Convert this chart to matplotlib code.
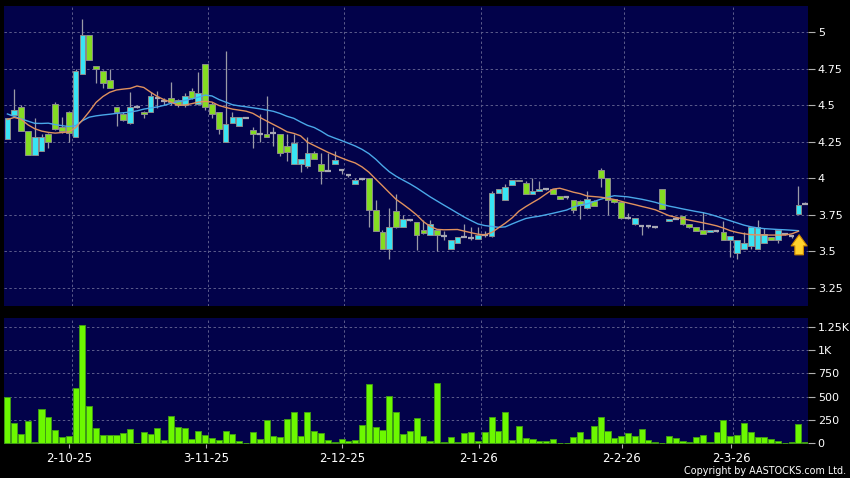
import matplotlib
matplotlib.use('Agg')
import matplotlib.pyplot as plt
import numpy as np

# ---------------- data ----------------
opens = [4.27, 4.43, 4.49, 4.32, 4.16, 4.19, 4.30, 4.51, 4.35, 4.45,
         4.28, 4.71, 4.98, 4.765, 4.735, 4.67, 4.49, 4.44, 4.38, 4.49,
         4.45, 4.45, 4.55, 4.53, 4.55, 4.535, 4.50, 4.60, 4.51, 4.78,
         4.51, 4.45, 4.25, 4.38, 4.36, 4.415, 4.33, 4.30, 4.30, 4.31,
         4.30, 4.22, 4.10, 4.10, 4.085, 4.17, 4.10, 4.05, 4.10, 4.06,
         4.02, 3.96, 3.995, 4.00, 3.78, 3.63, 3.52, 3.775, 3.67, 3.715,
         3.70, 3.65, 3.61, 3.65, 3.605, 3.52, 3.56, 3.60, 3.59, 3.585,
         3.61, 3.605, 3.90, 3.85, 3.955, 3.99, 3.97, 3.89, 3.91, 3.93,
         3.925, 3.88, 3.87, 3.85, 3.845, 3.80, 3.845, 4.06, 4.00, 3.86,
         3.84, 3.73, 3.69, 3.675, 3.675, 3.67, 3.925, 3.71, 3.72, 3.74,
         3.69, 3.665, 3.645, 3.63, 3.64, 3.63, 3.58, 3.49, 3.52, 3.54,
         3.52, 3.56, 3.60, 3.58, 3.62, 3.605, 3.755, 3.825]
highs = [4.41, 4.61, 4.50, 4.32, 4.41, 4.30, 4.31, 4.52, 4.42, 4.46,
         4.75, 5.09, 4.98, 4.77, 4.74, 4.75, 4.49, 4.45, 4.59, 4.50,
         4.46, 4.59, 4.60, 4.55, 4.66, 4.54, 4.58, 4.62, 4.73, 4.78,
         4.52, 4.45, 4.87, 4.45, 4.42, 4.42, 4.35, 4.44, 4.56, 4.35,
         4.30, 4.30, 4.30, 4.13, 4.28, 4.19, 4.17, 4.17, 4.19, 4.06,
         4.03, 4.00, 4.00, 4.00, 3.85, 3.65, 3.80, 3.89, 3.75, 3.72,
         3.70, 3.715, 3.715, 3.65, 3.64, 3.58, 3.60, 3.69, 3.67, 3.67,
         3.64, 3.91, 3.93, 3.96, 3.99, 3.99, 3.98, 4.00, 3.98, 3.93,
         3.93, 3.88, 3.87, 3.85, 3.85, 3.91, 3.85, 4.07, 4.00, 3.86,
         3.84, 3.76, 3.73, 3.68, 3.68, 3.67, 3.93, 3.72, 3.72, 3.74,
         3.69, 3.67, 3.77, 3.65, 3.645, 3.71, 3.605, 3.58, 3.63, 3.665,
         3.715, 3.66, 3.60, 3.65, 3.62, 3.61, 3.945, 3.835]
lows = [4.27, 4.42, 4.32, 4.16, 4.16, 4.19, 4.21, 4.33, 4.31, 4.25,
        4.28, 4.71, 4.81, 4.65, 4.62, 4.62, 4.36, 4.39, 4.37, 4.48,
        4.41, 4.45, 4.48, 4.50, 4.50, 4.49, 4.49, 4.54, 4.50, 4.47,
        4.41, 4.30, 4.25, 4.38, 4.36, 4.41, 4.21, 4.25, 4.28, 4.22,
        4.15, 4.12, 4.10, 4.04, 4.07, 4.13, 3.96, 4.05, 4.10, 4.03,
        4.01, 3.96, 3.99, 3.67, 3.64, 3.52, 3.45, 3.66, 3.67, 3.71,
        3.51, 3.62, 3.61, 3.50, 3.58, 3.52, 3.56, 3.60, 3.58, 3.585,
        3.60, 3.60, 3.90, 3.85, 3.955, 3.98, 3.89, 3.89, 3.91, 3.92,
        3.89, 3.86, 3.86, 3.76, 3.72, 3.79, 3.81, 3.94, 3.75, 3.83,
        3.72, 3.72, 3.68, 3.61, 3.66, 3.66, 3.79, 3.71, 3.72, 3.68,
        3.66, 3.64, 3.62, 3.63, 3.635, 3.58, 3.46, 3.45, 3.52, 3.52,
        3.52, 3.56, 3.58, 3.56, 3.61, 3.59, 3.755, 3.825]
closes = [4.41, 4.47, 4.32, 4.16, 4.28, 4.28, 4.25, 4.34, 4.32, 4.31,
          4.735, 4.98, 4.81, 4.75, 4.65, 4.62, 4.45, 4.40, 4.49, 4.49,
          4.44, 4.56, 4.55, 4.53, 4.52, 4.50, 4.56, 4.55, 4.58, 4.49,
          4.44, 4.34, 4.37, 4.42, 4.42, 4.415, 4.30, 4.30, 4.28, 4.31,
          4.17, 4.18, 4.24, 4.13, 4.17, 4.13, 4.05, 4.05, 4.125, 4.06,
          4.02, 3.99, 3.995, 3.78, 3.64, 3.52, 3.67, 3.67, 3.72, 3.715,
          3.61, 3.625, 3.69, 3.61, 3.605, 3.58, 3.60, 3.60, 3.59, 3.615,
          3.61, 3.90, 3.93, 3.94, 3.99, 3.98, 3.89, 3.91, 3.93, 3.93,
          3.89, 3.86, 3.87, 3.78, 3.82, 3.86, 3.81, 4.00, 3.85, 3.84,
          3.73, 3.73, 3.73, 3.675, 3.675, 3.67, 3.79, 3.72, 3.72, 3.69,
          3.665, 3.64, 3.62, 3.645, 3.64, 3.58, 3.605, 3.58, 3.56, 3.665,
          3.67, 3.62, 3.58, 3.65, 3.62, 3.605, 3.82, 3.825]
volumes = [492, 219, 93, 237, 14, 366, 277, 140, 65, 79,
           589, 1272, 395, 162, 86, 86, 86, 108, 147, 4,
           115, 97, 158, 32, 295, 169, 162, 43, 133, 86,
           50, 32, 129, 100, 25, 0, 115, 43, 248, 72,
           65, 259, 330, 75, 338, 129, 104, 32, 11, 40,
           25, 32, 190, 632, 172, 140, 510, 330, 93, 129,
           269, 75, 22, 643, 7, 61, 7, 104, 122, 22,
           122, 277, 133, 334, 32, 187, 50, 40, 25, 22,
           40, 4, 0, 65, 118, 45, 182, 282, 128, 52,
           79, 105, 79, 149, 32, 7, 0, 81, 54, 24,
           7, 66, 82, 7, 122, 246, 77, 82, 212, 122,
           64, 61, 41, 25, 0, 7, 210, 10]
ma_short = [4.402, 4.416, 4.404, 4.366, 4.339, 4.323, 4.314, 4.309, 4.313, 4.317,
            4.346, 4.398, 4.456, 4.519, 4.559, 4.588, 4.604, 4.610, 4.615, 4.631,
            4.621, 4.589, 4.559, 4.537, 4.521, 4.500, 4.501, 4.510, 4.521, 4.526,
            4.521, 4.498, 4.485, 4.473, 4.466, 4.459, 4.444, 4.417, 4.392, 4.368,
            4.344, 4.318, 4.307, 4.290, 4.247, 4.224, 4.201, 4.178, 4.158, 4.139,
            4.121, 4.105, 4.078, 4.042, 3.995, 3.949, 3.902, 3.856, 3.823, 3.788,
            3.750, 3.704, 3.671, 3.651, 3.648, 3.649, 3.650, 3.639, 3.628, 3.618,
            3.613, 3.629, 3.661, 3.693, 3.729, 3.775, 3.806, 3.834, 3.861, 3.894,
            3.926, 3.932, 3.919, 3.905, 3.895, 3.879, 3.875, 3.871, 3.864, 3.855,
            3.843, 3.831, 3.820, 3.808, 3.797, 3.785, 3.765, 3.745, 3.734, 3.723,
            3.714, 3.705, 3.696, 3.686, 3.675, 3.660, 3.642, 3.630, 3.621, 3.615,
            3.613, 3.612, 3.612, 3.612, 3.612, 3.620, 3.638]
ma_long = [4.440, 4.423, 4.407, 4.391, 4.376, 4.375, 4.377, 4.367, 4.360, 4.354,
           4.360, 4.394, 4.418, 4.427, 4.433, 4.438, 4.444, 4.448, 4.453, 4.461,
           4.473, 4.481, 4.488, 4.499, 4.513, 4.523, 4.532, 4.543, 4.555, 4.569,
           4.563, 4.539, 4.521, 4.503, 4.495, 4.489, 4.482, 4.475, 4.467, 4.458,
           4.443, 4.424, 4.410, 4.385, 4.362, 4.347, 4.322, 4.293, 4.275, 4.258,
           4.240, 4.221, 4.198, 4.169, 4.131, 4.086, 4.045, 4.014, 3.988, 3.963,
           3.935, 3.904, 3.873, 3.845, 3.817, 3.790, 3.762, 3.735, 3.711, 3.688,
           3.677, 3.671, 3.665, 3.668, 3.688, 3.707, 3.725, 3.734, 3.741, 3.751,
           3.761, 3.772, 3.783, 3.803, 3.817, 3.825, 3.841, 3.857, 3.870, 3.881,
           3.877, 3.873, 3.865, 3.857, 3.847, 3.836, 3.822, 3.810, 3.801, 3.791,
           3.782, 3.773, 3.765, 3.754, 3.740, 3.725, 3.710, 3.695, 3.680, 3.669,
           3.661, 3.656, 3.653, 3.650, 3.648, 3.645, 3.642]
date_idx = [9, 29, 49, 69, 90, 106]
date_labels = ['2-10-25', '3-11-25', '2-12-25', '2-1-26', '2-2-26', '2-3-26']
price_ticks = [3.25, 3.5, 3.75, 4.0, 4.25, 4.5, 4.75, 5.0]
price_labels = ['3.25', '3.5', '3.75', '4', '4.25', '4.5', '4.75', '5']
vol_ticks = [0, 250, 500, 750, 1000, 1250]
vol_labels = ['0', '250', '500', '750', '1K', '1.25K']
copyright_text = 'Copyright by AASTOCKS.com Ltd.'

# ---------------- styling ----------------
BG = '#02024a'
GRID = '#5c5c8c'
UP = '#38e4f4'
DOWN = '#84dc22'
VOLC = '#6cf800'
WICK = '#9a9aa6'
EDGE = '#8c8c8c'
MA_S = '#e0915e'
MA_L = '#4aa8e8'
TXT = '#ffffff'

W, H = 850, 478
fig = plt.figure(figsize=(W / 100, H / 100), dpi=100, facecolor='black')
ax = fig.add_axes([4 / W, 1 - 306 / H, 804 / W, 300 / H])
axv = fig.add_axes([4 / W, 1 - 443.5 / H, 804 / W, 125.2 / H])

n = len(closes)
x = np.arange(n)
o = np.array(opens); c = np.array(closes); h = np.array(highs); l = np.array(lows)
v = np.array(volumes)
bw = 0.84
xl = (-0.5, 117.4)
goff = 0.4  # grid lines sit slightly right of the bar

for a in (ax, axv):
    a.set_facecolor(BG)
    for s in a.spines.values():
        s.set_visible(False)
    a.set_xlim(*xl)
    for d in date_idx:
        a.axvline(d + goff, color=GRID, lw=0.7, ls=(0, (2.5, 2.5)), zorder=0)

for t in price_ticks:
    ax.axhline(t, color=GRID, lw=0.7, ls=(0, (2.5, 2.5)), zorder=0)
for t in vol_ticks[1:]:
    axv.axhline(t, color=GRID, lw=0.7, ls=(0, (2.5, 2.5)), zorder=0)

# wicks
ax.vlines(x, l, h, color=WICK, lw=0.9, zorder=2)
# bodies
up = c > o
dn = c < o
dj = c == o
ax.bar(x[up], (c - o)[up], bottom=o[up], width=bw, color=UP, edgecolor=EDGE, lw=0.7, zorder=3)
ax.bar(x[dn], (o - c)[dn], bottom=c[dn], width=bw, color=DOWN, edgecolor=EDGE, lw=0.7, zorder=3)
ax.hlines(c[dj], x[dj] - bw / 2, x[dj] + bw / 2, color='#a8a8b4', lw=1.6, zorder=3)

# moving averages
ax.plot(x[:len(ma_long)], ma_long, color=MA_L, lw=1.0, zorder=4)
ax.plot(x[:len(ma_short)], ma_short, color=MA_S, lw=1.0, zorder=4)

# arrow marker at end of MA lines
tip_x = len(ma_short) - 1 + 0.1
tip_y = ma_short[-1]
ax.annotate('', xy=(tip_x, tip_y - 0.005), xytext=(tip_x, tip_y - 0.18),
            arrowprops=dict(arrowstyle='simple,head_width=1.15,head_length=0.8,tail_width=0.62',
                            mutation_scale=10, fc='#ffd22e', ec='#d08a00', lw=0.8), zorder=6)

ax.set_ylim(3.127, 5.178)
ax.set_yticks(price_ticks)
ax.set_yticklabels(price_labels)
ax.yaxis.tick_right()
ax.tick_params(axis='y', colors='#b0b0b0', labelcolor=TXT, length=5, width=0.8, pad=2, labelsize=8)
ax.set_xticks([])

# volume
axv.bar(x, v, width=bw + 0.05, color=VOLC, edgecolor='#3f9a16', lw=0.7, zorder=3)
axv.set_ylim(-5, 1344)
axv.set_yticks(vol_ticks)
axv.set_yticklabels(vol_labels)
axv.yaxis.tick_right()
axv.tick_params(axis='y', colors='#b0b0b0', labelcolor=TXT, length=5, width=0.8, pad=2, labelsize=8)
axv.set_xticks(np.array(date_idx) + 0.1)
axv.set_xticklabels(date_labels)
axv.tick_params(axis='x', colors='#b0b0b0', labelcolor=TXT, length=3, width=0.8, pad=3, labelsize=8.5)

fig.text(846 / W, 2 / H, copyright_text, color=TXT, fontsize=6.9, ha='right', va='bottom')

fig.savefig('out.png', dpi=100, facecolor='black')
